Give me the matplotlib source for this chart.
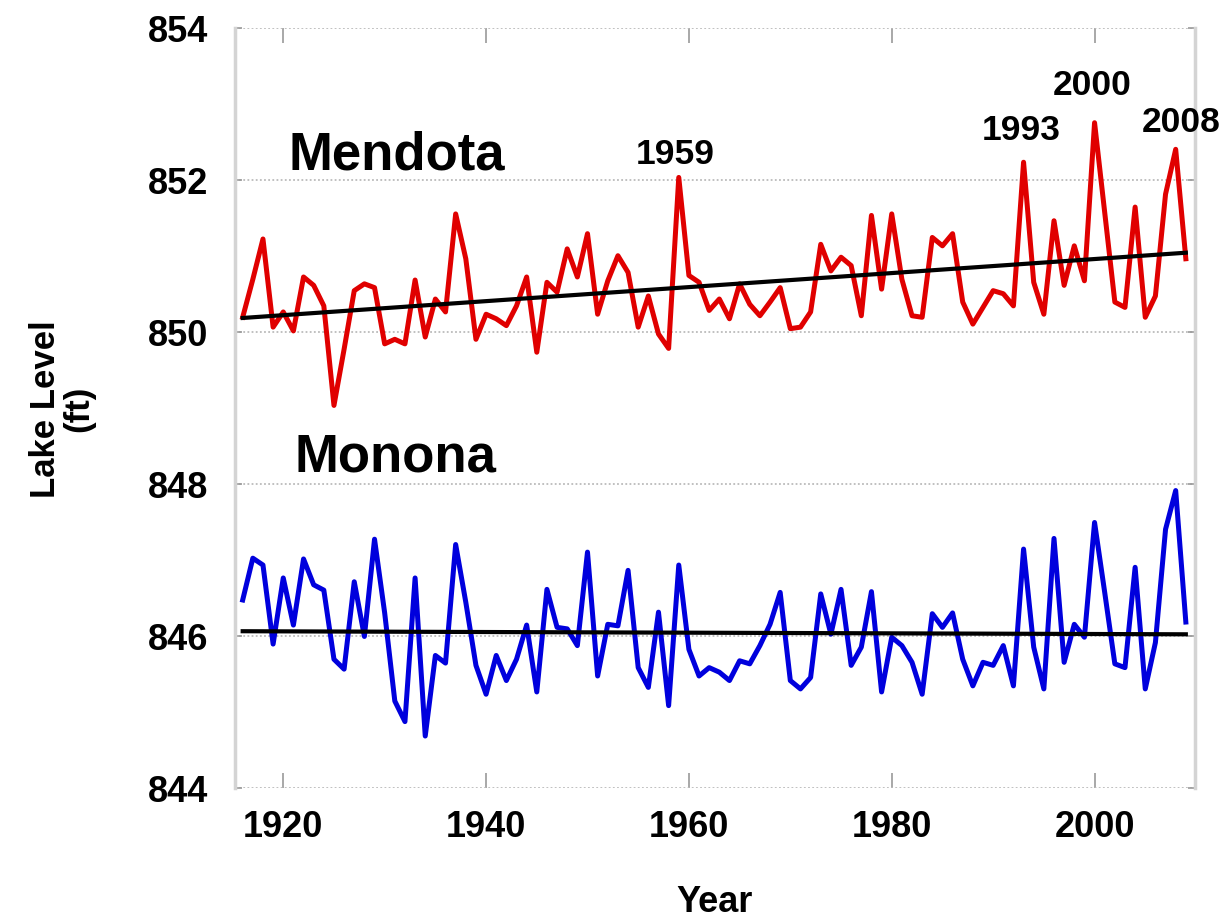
import numpy as np
import matplotlib
matplotlib.use('Agg')
import matplotlib.pyplot as plt

plt.rcParams['font.family'] = ['Liberation Sans', 'DejaVu Sans']
plt.rcParams['font.weight'] = 'bold'

# annual lake levels (ft), 1916-2009
years = list(range(1916, 2010))

mendota = [
    850.19, 850.69, 851.22, 850.06, 850.26, 850.01, 850.72, 850.61, 850.34, 849.03,
    849.77, 850.54, 850.63, 850.58, 849.84, 849.90, 849.84, 850.68, 849.93, 850.43,
    850.26, 851.55, 850.96, 849.90, 850.23, 850.17, 850.08, 850.34, 850.72, 849.73,
    850.65, 850.52, 851.09, 850.72, 851.29, 850.23, 850.67, 851.00, 850.78, 850.06,
    850.47, 849.97, 849.78, 852.03, 850.74, 850.65, 850.28, 850.43, 850.17, 850.63,
    850.36, 850.21, 850.39, 850.58, 850.04, 850.06, 850.26, 851.15, 850.80, 850.98,
    850.87, 850.21, 851.53, 850.56, 851.55, 850.69, 850.21, 850.19, 851.24, 851.13,
    851.29, 850.39, 850.10, 850.32, 850.54, 850.50, 850.34, 852.23, 850.65, 850.23,
    851.46, 850.61, 851.13, 850.67, 852.75, 851.57, 850.39, 850.32, 851.64, 850.19,
    850.47, 851.81, 852.40, 850.96,
]

monona = [
    846.47, 847.02, 846.93, 845.89, 846.76, 846.14, 847.01, 846.67, 846.60, 845.69,
    845.56, 846.71, 845.99, 847.27, 846.30, 845.14, 844.87, 846.76, 844.68, 845.74,
    845.64, 847.20, 846.44, 845.61, 845.23, 845.74, 845.41, 845.69, 846.14, 845.26,
    846.61, 846.11, 846.09, 845.87, 847.10, 845.47, 846.15, 846.13, 846.86, 845.58,
    845.32, 846.31, 845.08, 846.93, 845.82, 845.47, 845.58, 845.52, 845.41, 845.67,
    845.63, 845.87, 846.15, 846.57, 845.41, 845.30, 845.45, 846.55, 846.02, 846.61,
    845.61, 845.85, 846.58, 845.26, 845.98, 845.87, 845.65, 845.23, 846.29, 846.11,
    846.30, 845.69, 845.34, 845.65, 845.61, 845.87, 845.34, 847.14, 845.85, 845.30,
    847.28, 845.65, 846.15, 845.98, 847.49, 846.57, 845.63, 845.58, 846.90, 845.30,
    845.91, 847.40, 847.91, 846.18,
]

peak_years = [1959, 1993, 2000, 2008]

x = np.array(years)
fig = plt.figure(figsize=(12.29, 9.2), dpi=100)
ax = fig.add_axes([0.1912, 0.1427, 0.7811, 0.8261])

ax.plot(x, mendota, color='#e00000', lw=3.6, zorder=3)
ax.plot(x, monona, color='#0000dd', lw=3.6, zorder=3)

# linear trends
for series in (mendota, monona):
    k, b = np.polyfit(x, series, 1)
    ax.plot(x[[0, -1]], k * x[[0, -1]] + b, color='black', lw=3.0, zorder=4)

ax.set_xlim(1915.24, 2009.9)
ax.set_ylim(844, 854)
ax.set_xticks([1920, 1940, 1960, 1980, 2000])
ax.set_yticks([844, 846, 848, 850, 852, 854])

ax.grid(axis='y', color='#bbbbbb', lw=1.3, linestyle=(0, (1, 1.3)))
ax.set_axisbelow(True)
for s in ('top', 'bottom'):
    ax.spines[s].set_visible(False)
for s in ('left', 'right'):
    ax.spines[s].set_color('#d4d4d4')
    ax.spines[s].set_linewidth(2.5)

ax.tick_params(axis='x', direction='in', top=True, length=11, width=1.2,
               color='#999999', labelsize=26, pad=15)
ax.tick_params(axis='y', direction='in', right=True, length=5, width=1.2,
               color='#999999', labelsize=26, pad=19)

ax.set_xlabel('Year', fontsize=26, fontweight='bold', labelpad=29)
ax.set_ylabel('Lake Level\n(ft)', fontsize=25, fontweight='bold', labelpad=38,
              linespacing=1.0)

ax.text(1920.56, 852.15, 'Mendota', fontsize=38, fontweight='bold', va='baseline')
ax.text(1921.15, 848.17, 'Monona', fontsize=38, fontweight='bold', va='baseline')

label_pos = {1959: (1958.7, 852.22), 1993: (1992.75, 852.54),
             2000: (1999.75, 853.13), 2008: (2008.53, 852.64)}
for yr in peak_years:
    lx, ly = label_pos[yr]
    ax.text(lx, ly, str(yr), fontsize=25.5, fontweight='bold', ha='center',
            va='baseline', clip_on=False)

fig.savefig('out.png', dpi=100)
